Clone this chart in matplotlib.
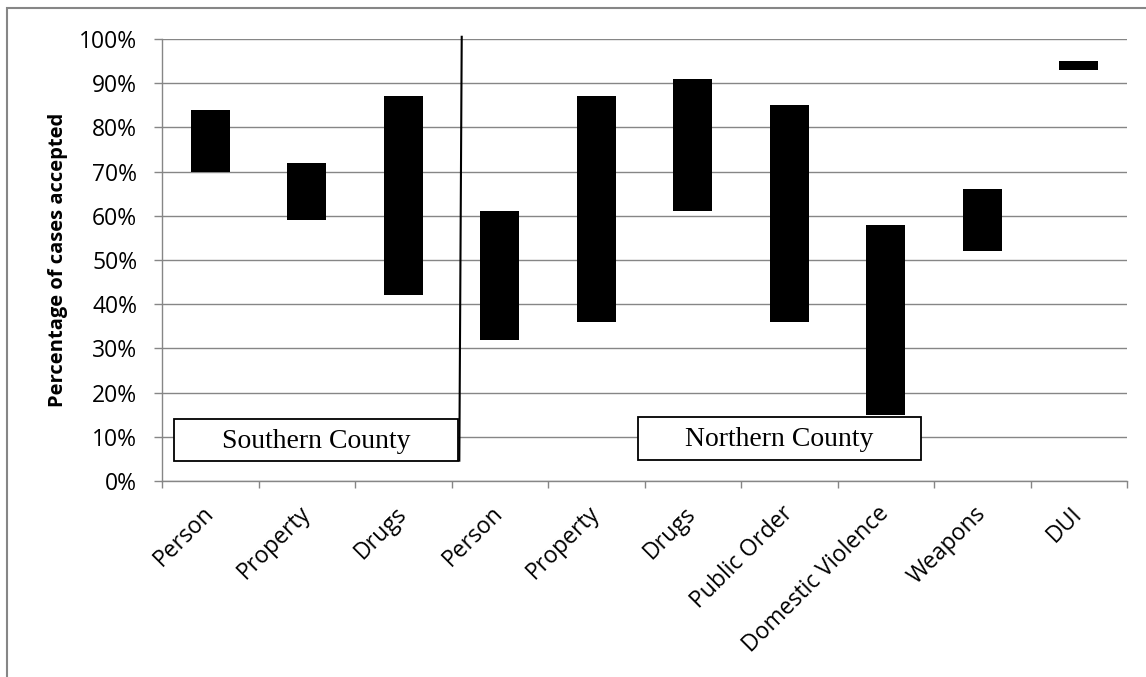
import matplotlib
matplotlib.use("Agg")
import matplotlib.pyplot as plt
from matplotlib.patches import Rectangle
from matplotlib.ticker import FixedLocator

# Range of acceptance rates (%) by offence type, two counties
categories = ["Person", "Property", "Drugs",
              "Person", "Property", "Drugs", "Public Order",
              "Domestic Violence", "Weapons", "DUI"]
low_pct = [70, 59, 42, 32, 36, 61, 36, 15, 52, 93]
high_pct = [84, 72, 87, 61, 87, 91, 85, 58, 66, 95]
county_names = ["Southern County", "Northern County"]

GRID = "#868686"
plt.rcParams["font.family"] = ["Open Sans", "DejaVu Sans"]

W, H = 1146, 677
fig = plt.figure(figsize=(W / 100, H / 100), dpi=100)
ax = fig.add_axes([162 / W, 1 - 481 / H, 965 / W, 442 / H])

x = list(range(len(categories)))
heights = [h - l for l, h in zip(low_pct, high_pct)]
ax.bar(x, heights, bottom=low_pct, width=0.4, color="black", zorder=3)

ax.set_xlim(-0.5, len(categories) - 0.5)
ax.set_ylim(0, 100)
ax.set_yticks(range(0, 101, 10))
ax.set_yticklabels([f"{v}%" for v in range(0, 101, 10)])
ax.yaxis.grid(True, color=GRID, linewidth=1.0)
ax.set_axisbelow(True)

ax.set_xticks(x)
ax.set_xticklabels(categories, rotation=45, ha="right", va="center",
                   rotation_mode="anchor")
ax.xaxis.set_minor_locator(FixedLocator([i - 0.5 for i in range(len(categories) + 1)]))
ax.tick_params(axis="x", which="major", length=0, pad=21, labelsize=16.5)
ax.tick_params(axis="x", which="minor", length=5, color=GRID, width=1.0)
ax.tick_params(axis="y", length=5.8, color=GRID, width=1.0, pad=12, labelsize=16.5)

for side in ("top", "right"):
    ax.spines[side].set_visible(False)
for side in ("left", "bottom"):
    ax.spines[side].set_color(GRID)
    ax.spines[side].set_linewidth(1.0)

ax.set_ylabel("Percentage of cases accepted", fontsize=14.5, fontweight="bold",
              labelpad=8)

# divider between the two counties
ax.plot([2.606, 2.581], [100.5, 4.6], color="black", linewidth=1.5,
        clip_on=False, zorder=4)

# county label boxes
boxes = [(-0.376, 4.5, 2.943, 9.5), (4.43, 4.75, 2.94, 9.8)]
for name, (bx, by, bw, bh) in zip(county_names, boxes):
    ax.add_patch(Rectangle((bx, by), bw, bh, facecolor="white", edgecolor="black",
                           linewidth=1.3, zorder=5, clip_on=False))
    ax.text(bx + bw / 2, by + bh / 2 - 0.3, name, ha="center", va="center",
            fontsize=20, family="Liberation Serif", zorder=6)

# outer frame
fig.add_artist(Rectangle((7 / W, -0.1), 1.2, 1.1 - 8 / H, transform=fig.transFigure,
                         fill=False, edgecolor=GRID, linewidth=1.5))

fig.savefig("out.png", dpi=100)
